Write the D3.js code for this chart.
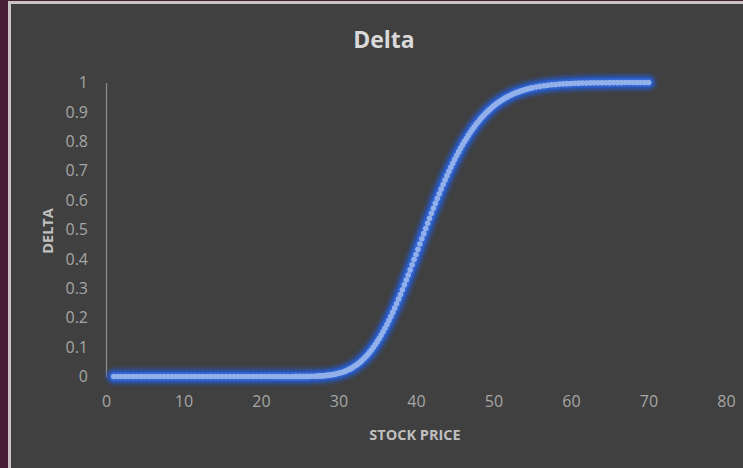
<!DOCTYPE html>
<html>
<head>
<meta charset="utf-8">
<script src="https://cdn.jsdelivr.net/npm/d3@7"></script>
<style>
  html, body { margin: 0; padding: 0; background: #4a1d36; }
  svg { display: block; font-family: "Open Sans", "Noto Sans", sans-serif; }
</style>
</head>
<body>
<svg id="chart"></svg>
<script>
const width = 743;
const height = 468;

// stock price (x) and option delta (y)
const stockPrice = [
  1, 1.5, 2, 2.5, 3, 3.5, 4, 4.5, 5, 5.5, 6, 6.5, 7, 7.5, 8, 8.5, 9, 9.5, 10, 10.5,
  11, 11.5, 12, 12.5, 13, 13.5, 14, 14.5, 15, 15.5, 16, 16.5, 17, 17.5, 18, 18.5, 19, 19.5, 20, 20.5,
  21, 21.5, 22, 22.5, 23, 23.5, 24, 24.5, 25, 25.5, 26, 26.5,
  27, 27.25, 27.5, 27.75, 28, 28.25, 28.5, 28.75, 29, 29.25, 29.5, 29.75,
  30, 30.25, 30.5, 30.75, 31, 31.25, 31.5, 31.75, 32, 32.25, 32.5, 32.75,
  33, 33.25, 33.5, 33.75, 34, 34.25, 34.5, 34.75, 35, 35.25, 35.5, 35.75,
  36, 36.25, 36.5, 36.75, 37, 37.25, 37.5, 37.75, 38, 38.25, 38.5, 38.75,
  39, 39.25, 39.5, 39.75, 40, 40.25, 40.5, 40.75, 41, 41.25, 41.5, 41.75,
  42, 42.25, 42.5, 42.75, 43, 43.25, 43.5, 43.75, 44, 44.25, 44.5, 44.75,
  45, 45.25, 45.5, 45.75, 46, 46.25, 46.5, 46.75, 47, 47.25, 47.5, 47.75,
  48, 48.25, 48.5, 48.75, 49, 49.25, 49.5, 49.75, 50, 50.25, 50.5, 50.75,
  51, 51.25, 51.5, 51.75, 52, 52.25, 52.5, 52.75, 53, 53.25, 53.5, 53.75,
  54, 54.25, 54.5, 54.75, 55,
  55.5, 56, 56.5, 57, 57.5, 58, 58.5, 59, 59.5, 60, 60.5, 61, 61.5, 62, 62.5,
  63, 63.5, 64, 64.5, 65, 65.5, 66, 66.5, 67, 67.5, 68, 68.5, 69, 69.5, 70
];
const delta = [
  0, 0, 0, 0, 0, 0, 0, 0, 0, 0, 0, 0, 0, 0, 0, 0, 0, 0, 0, 0,
  0, 0, 0, 0, 0, 0, 0, 0, 0, 0, 0, 0, 0, 0, 0, 0, 0, 0, 0, 0,
  0, 0, 0.0001, 0.0001, 0.0001, 0.0002, 0.0002, 0.0003, 0.0003, 0.0004, 0.0004, 0.0007,
  0.0011, 0.0014, 0.0017, 0.0021, 0.0026, 0.0031, 0.0038, 0.0046, 0.0055, 0.0065, 0.0077, 0.0092,
  0.0108, 0.0126, 0.0147, 0.0170, 0.0196, 0.0226, 0.0259, 0.0295, 0.0336, 0.0380, 0.0428, 0.0482,
  0.0539, 0.0602, 0.0669, 0.0742, 0.0820, 0.0903, 0.0992, 0.1086, 0.1186, 0.1292, 0.1403, 0.1520,
  0.1641, 0.1768, 0.1901, 0.2038, 0.2180, 0.2326, 0.2477, 0.2631, 0.2790, 0.2951, 0.3117, 0.3284,
  0.3454, 0.3626, 0.3800, 0.3976, 0.4152, 0.4329, 0.4506, 0.4683, 0.4859, 0.5035, 0.5209, 0.5383,
  0.5554, 0.5724, 0.5890, 0.6055, 0.6217, 0.6375, 0.6531, 0.6683, 0.6831, 0.6976, 0.7117, 0.7254,
  0.7387, 0.7516, 0.7640, 0.7761, 0.7878, 0.7989, 0.8097, 0.8201, 0.8301, 0.8396, 0.8488, 0.8575,
  0.8659, 0.8738, 0.8814, 0.8886, 0.8955, 0.9020, 0.9082, 0.9141, 0.9197, 0.9249, 0.9299, 0.9346,
  0.9390, 0.9431, 0.9470, 0.9507, 0.9542, 0.9574, 0.9605, 0.9633, 0.9660, 0.9685, 0.9708, 0.9730,
  0.9750, 0.9769, 0.9787, 0.9803, 0.9819,
  0.9846, 0.9869, 0.9889, 0.9907, 0.9921, 0.9934, 0.9945, 0.9954, 0.9961, 0.9968, 0.9973, 0.9978, 0.9982, 0.9985, 0.9988,
  0.9990, 0.9992, 0.9993, 0.9994, 0.9995, 0.9996, 0.9997, 0.9997, 0.9998, 0.9998, 0.9998, 0.9999, 0.9999, 0.9999, 0.9999
];
const xTicks = [0, 10, 20, 30, 40, 50, 60, 70, 80];
const yTicks = [0, 0.1, 0.2, 0.3, 0.4, 0.5, 0.6, 0.7, 0.8, 0.9, 1];

const data = stockPrice.map((s, i) => ({ s: s, d: delta[i] }));

const svg = d3.select("#chart")
  .attr("width", width)
  .attr("height", height);

// frame: maroon strip on the left, light border, dark gray plot card
svg.append("rect").attr("x", 0).attr("y", 0).attr("width", width).attr("height", height).attr("fill", "#4a1d36");
svg.append("rect").attr("x", 8).attr("y", 1).attr("width", width - 8).attr("height", height).attr("fill", "#c9c3c6");
svg.append("rect").attr("x", 11).attr("y", 4).attr("width", width - 11).attr("height", height).attr("fill", "#404040");

const x = d3.scaleLinear().domain([0, 80]).range([106, 726]);
const y = d3.scaleLinear().domain([0, 1]).range([376.5, 82.5]);

// y axis
const yAxis = svg.append("g")
  .attr("transform", "translate(106,0)")
  .call(d3.axisLeft(y).tickValues(yTicks).tickSize(0).tickPadding(18).tickFormat(d3.format("~g")));
yAxis.select(".domain").attr("stroke", "#8a8a8a").attr("stroke-width", 1.3);
yAxis.selectAll("text")
  .attr("fill", "#a6a6a6")
  .style("font-size", "16px")
  .style("font-family", "'Open Sans', sans-serif");

// x axis, no line
const xAxis = svg.append("g")
  .attr("transform", "translate(0,376.5)")
  .call(d3.axisBottom(x).tickValues(xTicks).tickSize(0).tickPadding(19));
xAxis.select(".domain").remove();
xAxis.selectAll("text")
  .attr("fill", "#a6a6a6")
  .style("font-size", "16px")
  .style("font-family", "'Open Sans', sans-serif");

// titles
svg.append("text")
  .attr("x", 384).attr("y", 48)
  .attr("text-anchor", "middle")
  .attr("fill", "#d9d9d9")
  .attr("font-size", 23).attr("font-weight", "bold")
  .text("Delta");

svg.append("text")
  .attr("x", 415).attr("y", 440)
  .attr("text-anchor", "middle")
  .attr("fill", "#bfbfbf")
  .attr("font-size", 14.5).attr("font-weight", "bold")
  .text("STOCK PRICE");

svg.append("text")
  .attr("transform", "translate(53,231) rotate(-90)")
  .attr("text-anchor", "middle")
  .attr("fill", "#bfbfbf")
  .attr("font-size", 14.5).attr("font-weight", "bold")
  .text("DELTA");

// glowing series
const defs = svg.append("defs");
defs.append("filter").attr("id", "glow")
  .attr("x", "-10%").attr("y", "-10%").attr("width", "120%").attr("height", "120%")
  .append("feGaussianBlur").attr("stdDeviation", 2);

const line = d3.line().x(d => x(d.s)).y(d => y(d.d));

svg.append("path")
  .datum(data)
  .attr("d", line)
  .attr("fill", "none")
  .attr("stroke", "#2856c0")
  .attr("stroke-width", 14)
  .attr("stroke-linecap", "round")
  .attr("stroke-linejoin", "round")
  .attr("filter", "url(#glow)");

svg.append("path")
  .datum(data)
  .attr("d", line)
  .attr("fill", "none")
  .attr("stroke", "#2f62cf")
  .attr("stroke-width", 9)
  .attr("stroke-linecap", "round")
  .attr("stroke-linejoin", "round");

svg.selectAll(".dot")
  .data(data)
  .enter()
  .append("circle")
  .attr("class", "dot")
  .attr("cx", d => x(d.s))
  .attr("cy", d => y(d.d))
  .attr("r", 2.8)
  .attr("fill", "#92b0ea");
</script>
</body>
</html>
